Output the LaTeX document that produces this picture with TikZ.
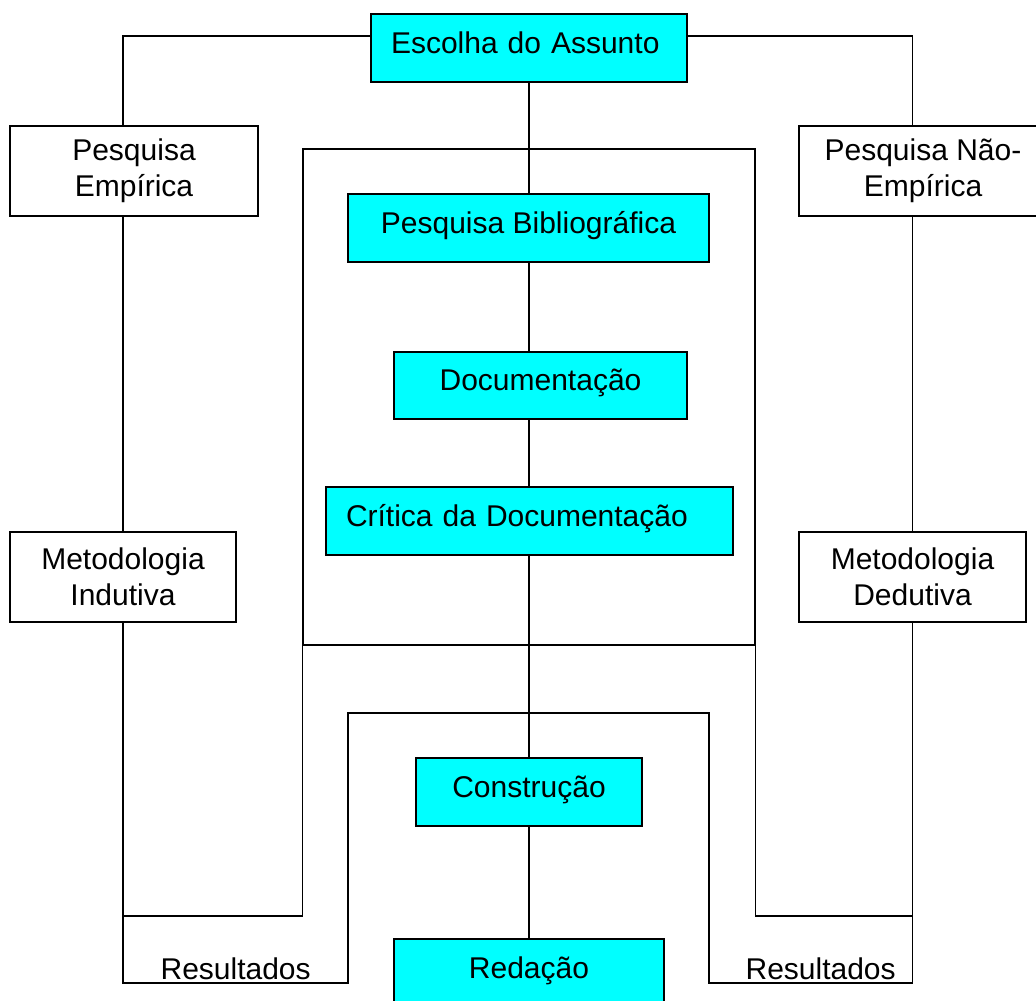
\documentclass[tikz,border=0pt]{standalone}
\usepackage{fontspec}
\setmainfont{Liberation Sans}
\definecolor{ciano}{RGB}{0,255,255}
\tikzset{
  caixa/.style = {draw=black, rectangle, inner sep=0pt, align=center,
    font=\fontsize{30}{36}\selectfont},% caixa branca
  passo/.style = {caixa, fill=ciano, text height=22pt, text depth=12pt},% etapa ciano
  passo_e/.style = {passo, align=left, inner xsep=20pt, text width=#1},% etapa, texto a esquerda
  rotulo/.style = {inner sep=0pt, font=\fontsize{30}{36}\selectfont}% texto solto
}

\begin{document}
\begin{tikzpicture}[x=1pt,y=-1pt,line width=1.2pt]
\clip (0,0) rectangle (1036,1001);
\node[draw, inner sep=0pt, minimum width=452pt, minimum height=496pt] (bloco) at (529,397) {};
\node[passo_e=276pt, minimum width=316pt, minimum height=68pt] (escolha) at (529,48) {Escolha do Assunto};
\node[caixa, minimum width=248pt, minimum height=90pt] (pempirica) at (134,171) {Pesquisa\\Empírica};
\node[caixa, minimum width=248pt, minimum height=90pt] (pnaoemp) at (923,171) {Pesquisa Não-\\Empírica};
\node[passo, minimum width=361pt, minimum height=68pt] (biblio) at (528.5,228) {Pesquisa Bibliográfica};
\node[passo, minimum width=293pt, minimum height=67pt] (docum) at (540.5,385.5) {Documentação};
\node[passo_e=367pt, minimum width=407pt, minimum height=68pt] (critica) at (529.5,521) {Crítica da Documentação};
\node[caixa, minimum width=226pt, minimum height=90pt] (mindutiva) at (123,577) {Metodologia\\Indutiva};
\node[caixa, minimum width=227pt, minimum height=90pt] (mdedutiva) at (912.5,577) {Metodologia\\Dedutiva};
\node[passo, minimum width=226pt, minimum height=68pt] (constr) at (529,792) {Construção};
\node[passo, minimum width=270pt, minimum height=68pt] (redacao) at (529,973) {Redação};
\node[rotulo, anchor=base west] (resesq) at (160,979) {Resultados};
\node[rotulo, anchor=base west] (resdir) at (745,979) {Resultados};

% cantos da ligacao de baixo
\coordinate (pesq) at (348,983);
\coordinate (arcoesq) at (348,713);
\coordinate (arcodir) at (709,713);
\coordinate (pdir) at (709,983);

\draw ([yshift=12pt]escolha.west) -| (mindutiva.north |- pempirica.north);
\draw ([yshift=12pt]escolha.east) -| (mdedutiva.north |- pnaoemp.north);
\draw (escolha.south) -- (escolha.south |- biblio.north);
\draw (escolha.south |- biblio.south) -- (escolha.south |- docum.north);
\draw (escolha.south |- docum.south) -- (escolha.south |- critica.north);
\draw (escolha.south |- critica.south) -- (escolha.south |- constr.north);
\draw (constr.south) -- (redacao.north);
\draw (mindutiva.north |- pempirica.south) -- (mindutiva.north);
\draw (mdedutiva.north |- pnaoemp.south) -- (mdedutiva.north);
\draw (mindutiva.south) |- (pesq) -- (arcoesq) -- (arcodir) -- (pdir) -| (mdedutiva.south);
\draw (bloco.south west) |- (mindutiva.south |- 0,916);
\draw (bloco.south east) |- (mdedutiva.south |- 0,916);
\end{tikzpicture}
\end{document}
